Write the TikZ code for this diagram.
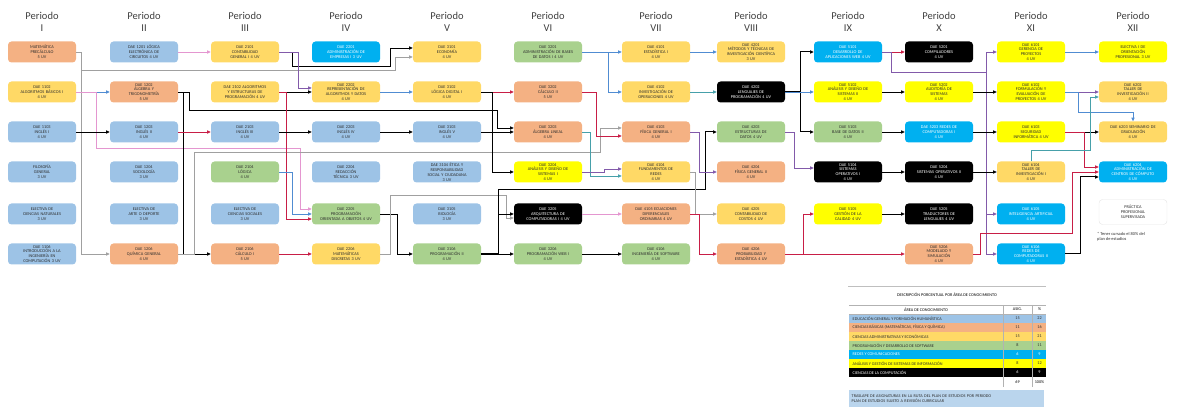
\documentclass[tikz,border=0pt]{standalone}
\usepackage{fontspec}
\setmainfont{Carlito}
\usetikzlibrary{arrows.meta}

\definecolor{naranja}{RGB}{244,177,131}
\definecolor{amarillo}{RGB}{255,217,102}
\definecolor{celeste}{RGB}{157,195,230}
\definecolor{verde}{RGB}{169,209,142}
\definecolor{cian}{RGB}{0,176,240}
\definecolor{amarillofuerte}{RGB}{255,255,0}
\definecolor{gris}{RGB}{160,160,160}
\definecolor{rosa}{RGB}{228,150,208}
\definecolor{azul}{RGB}{80,140,210}
\definecolor{rojo}{RGB}{200,30,70}
\definecolor{morado}{RGB}{130,90,170}
\definecolor{verdeazul}{RGB}{70,160,170}
\definecolor{titulo}{RGB}{64,64,64}
\definecolor{texto}{RGB}{45,45,45}
\colorlet{negro}{black}

\begin{document}
\begin{tikzpicture}[x=1pt,y=-1pt,
    curso/.style={rectangle, rounded corners=3.5pt, fill=#1, text=texto,
        minimum width=68pt, minimum height=21pt, inner sep=1pt,
        text width=66pt, align=center, font=\fontsize{4.3}{4.9}\selectfont},
    cursoosc/.style={curso=#1, text=white},
    flecha/.style={draw=#1, line width=0.7pt, -{Triangle[length=3.6pt,width=3.2pt]}},
    flecha/.default=gris,
    periodo/.style={align=center, text=titulo, font=\fontsize{10.5}{12.5}\selectfont},
    tabla/.style={font=\fontsize{4.2}{5}\selectfont, inner sep=0.5pt}]
    \useasboundingbox (0,0) rectangle (1180,411);

    % encabezados de periodo
    \foreach \x/\r [count=\i] in {42/I,144/II,245/III,346/IV,447/V,548/VI,656/VII,751/VIII,848/IX,939/X,1031/XI,1133/XII}
        \node[periodo] (p\i) at (\x,22) {Periodo\\\r};

    % Periodo I
    \node[curso=naranja] (c11) at (42,52) {MATEMÁTICA\\PRECÁLCULO\\5 UV};
    \node[curso=amarillo] (c12) at (42,92) {DAE 1102\\ALGORITMOS BÁSICOS I\\4 UV};
    \node[curso=celeste] (c13) at (42,132) {DAE 1103\\INGLÉS I\\4 UV};
    \node[curso=celeste] (c14) at (42,172) {FILOSOFÍA\\GENERAL\\3 UV};
    \node[curso=celeste] (c15) at (42,214) {ELECTIVA DE\\CIENCIAS NATURALES\\3 UV};
    \node[curso=celeste] (c16) at (42,254) {DAE 1106\\INTRODUCCIÓN A LA\\INGENIERÍA EN\\COMPUTACIÓN 3 UV};

    % Periodo II
    \node[curso=celeste] (c21) at (144,52) {DAE 1201 LÓGICA\\ELECTRÓNICA DE\\CIRCUITOS 4 UV};
    \node[curso=naranja] (c22) at (144,92) {DAE 1202\\ÁLGEBRA Y\\TRIGONOMETRÍA\\5 UV};
    \node[curso=celeste] (c23) at (144,132) {DAE 1203\\INGLÉS II\\4 UV};
    \node[curso=celeste] (c24) at (144,172) {DAE 1204\\SOCIOLOGÍA\\3 UV};
    \node[curso=celeste] (c25) at (144,214) {ELECTIVA DE\\ARTE O DEPORTE\\3 UV};
    \node[curso=naranja] (c26) at (144,254) {DAE 1206\\QUÍMICA GENERAL\\4 UV};

    % Periodo III
    \node[curso=amarillo] (c31) at (245,52) {DAE 2101\\CONTABILIDAD\\GENERAL I 4 UV};
    \node[curso=amarillo] (c32) at (245,92) {DAE 2102 ALGORITMOS\\Y ESTRUCTURAS DE\\PROGRAMACIÓN 4 UV};
    \node[curso=celeste] (c33) at (245,132) {DAE 2103\\INGLÉS III\\4 UV};
    \node[curso=verde] (c34) at (245,172) {DAE 2104\\LÓGICA\\4 UV};
    \node[curso=celeste] (c35) at (245,214) {ELECTIVA DE\\CIENCIAS SOCIALES\\3 UV};
    \node[curso=naranja] (c36) at (245,254) {DAE 2106\\CÁLCULO I\\5 UV};

    % Periodo IV
    \node[cursoosc=cian] (c41) at (346,52) {DAE 2201\\ADMINISTRACIÓN DE\\EMPRESAS I 3 UV};
    \node[curso=amarillo] (c42) at (346,92) {DAE 2202\\REPRESENTACIÓN DE\\ALGORITMOS Y DATOS\\4 UV};
    \node[curso=celeste] (c43) at (346,132) {DAE 2203\\INGLÉS IV\\4 UV};
    \node[curso=celeste] (c44) at (346,172) {DAE 2204\\REDACCIÓN\\TÉCNICA 3 UV};
    \node[curso=verde] (c45) at (346,214) {DAE 2205\\PROGRAMACIÓN\\ORIENTADA A OBJETOS 4 UV};
    \node[curso=amarillo] (c46) at (346,254) {DAE 2206\\MATEMÁTICAS\\DISCRETAS 3 UV};

    % Periodo V
    \node[curso=amarillo] (c51) at (447,52) {DAE 3101\\ECONOMÍA\\4 UV};
    \node[curso=amarillo] (c52) at (447,92) {DAE 3102\\LÓGICA DIGITAL I\\4 UV};
    \node[curso=celeste] (c53) at (447,132) {DAE 3103\\INGLÉS V\\4 UV};
    \node[curso=celeste] (c54) at (447,172) {DAE 3104 ÉTICA Y\\RESPONSABILIDAD\\SOCIAL Y CIUDADANA\\3 UV};
    \node[curso=celeste] (c55) at (447,214) {DAE 3105\\BIOLOGÍA\\3 UV};
    \node[curso=verde] (c56) at (447,254) {DAE 3106\\PROGRAMACIÓN II\\4 UV};

    % Periodo VI
    \node[curso=verde] (c61) at (548,52) {DAE 3201\\ADMINISTRACIÓN DE BASES\\DE DATOS I 4 UV};
    \node[curso=naranja] (c62) at (548,92) {DAE 3202\\CÁLCULO II\\5 UV};
    \node[curso=naranja] (c63) at (548,132) {DAE 3203\\ÁLGEBRA LINEAL\\4 UV};
    \node[curso=amarillofuerte] (c64) at (548,172) {DAE 3204\\ANÁLISIS Y DISEÑO DE\\SISTEMAS I\\4 UV};
    \node[cursoosc=negro] (c65) at (548,214) {DAE 3205\\ARQUITECTURA DE\\COMPUTADORAS I 4 UV};
    \node[curso=verde] (c66) at (548,254) {DAE 3206\\PROGRAMACIÓN WEB I\\4 UV};

    % Periodo VII
    \node[curso=amarillo] (c71) at (656,52) {DAE 4101\\ESTADÍSTICA I\\4 UV};
    \node[curso=amarillo] (c72) at (656,92) {DAE 4102\\INVESTIGACIÓN DE\\OPERACIONES 4 UV};
    \node[curso=naranja] (c73) at (656,132) {DAE 4103\\FÍSICA GENERAL I\\4 UV};
    \node[curso=amarillo] (c74) at (656,172) {DAE 4104\\FUNDAMENTOS DE\\REDES\\4 UV};
    \node[curso=naranja] (c75) at (656,214) {DAE 4105 ECUACIONES\\DIFERENCIALES\\ORDINARIAS 4 UV};
    \node[curso=verde] (c76) at (656,254) {DAE 4106\\INGENIERÍA DE SOFTWARE\\4 UV};

    % Periodo VIII
    \node[curso=amarillo] (c81) at (751,52) {DAE 4201\\MÉTODOS Y TÉCNICAS DE\\INVESTIGACIÓN CIENTÍFICA\\3 UV};
    \node[cursoosc=negro] (c82) at (751,92) {DAE 4202\\LENGUAJES DE\\PROGRAMACIÓN 4 UV};
    \node[curso=verde] (c83) at (751,132) {DAE 4203\\ESTRUCTURAS DE\\DATOS 4 UV};
    \node[curso=naranja] (c84) at (751,172) {DAE 4204\\FÍSICA GENERAL II\\4 UV};
    \node[curso=amarillo] (c85) at (751,214) {DAE 4205\\CONTABILIDAD DE\\COSTOS 4 UV};
    \node[curso=naranja] (c86) at (751,254) {DAE 4206\\PROBABILIDAD Y\\ESTADÍSTICA 4 UV};

    % Periodo IX
    \node[cursoosc=cian] (c91) at (848,52) {DAE 5101\\DESARROLLO DE\\APLICACIONES WEB 4 UV};
    \node[curso=amarillofuerte] (c92) at (848,92) {DAE 5102\\ANÁLISIS Y DISEÑO DE\\SISTEMAS II\\4 UV};
    \node[curso=verde] (c93) at (848,132) {DAE 5103\\BASE DE DATOS II\\4 UV};
    \node[cursoosc=negro] (c94) at (848,172) {DAE 5104\\SISTEMAS\\OPERATIVOS I\\4 UV};
    \node[curso=amarillofuerte] (c95) at (848,214) {DAE 5105\\GESTIÓN DE LA\\CALIDAD 4 UV};

    % Periodo X
    \node[cursoosc=negro] (c101) at (939,52) {DAE 5201\\COMPILADORES\\4 UV};
    \node[curso=amarillofuerte] (c102) at (939,92) {DAE 5202\\AUDITORÍA DE\\SISTEMAS\\4 UV};
    \node[cursoosc=cian] (c103) at (939,132) {DAE 5203 REDES DE\\COMPUTADORAS I\\4 UV};
    \node[cursoosc=negro] (c104) at (939,172) {DAE 5204\\SISTEMAS OPERATIVOS II\\4 UV};
    \node[cursoosc=negro] (c105) at (939,214) {DAE 5205\\TRADUCTORES DE\\LENGUAJES 4 UV};
    \node[curso=naranja] (c106) at (939,254) {DAE 5206\\MODELADO Y\\SIMULACIÓN\\4 UV};

    % Periodo XI
    \node[curso=amarillofuerte] (c111) at (1031,52) {DAE 6101\\GERENCIA DE\\PROYECTOS\\4 UV};
    \node[curso=amarillofuerte] (c112) at (1031,92) {DAE 6102\\FORMULACIÓN Y\\EVALUACIÓN DE\\PROYECTOS 4 UV};
    \node[curso=amarillofuerte] (c113) at (1031,132) {DAE 6103\\SEGURIDAD\\INFORMÁTICA 4 UV};
    \node[curso=amarillo] (c114) at (1031,172) {DAE 6104\\TALLER DE\\INVESTIGACIÓN I\\4 UV};
    \node[cursoosc=cian] (c115) at (1031,214) {DAE 6105\\INTELIGENCIA ARTIFICIAL\\4 UV};
    \node[cursoosc=cian] (c116) at (1031,254) {DAE 6106\\REDES DE\\COMPUTADORAS II\\4 UV};

    % Periodo XII
    \node[curso=amarillofuerte] (c121) at (1133,52) {ELECTIVA I DE\\ORIENTACIÓN\\PROFESIONAL 3 UV};
    \node[curso=amarillo] (c122) at (1133,92) {DAE 6202\\TALLER DE\\INVESTIGACIÓN II\\4 UV};
    \node[curso=amarillo] (c123) at (1133,132) {DAE 6203 SEMINARIO DE\\GRADUACIÓN\\4 UV};
    \node[cursoosc=cian] (c124) at (1133,172) {DAE 6204\\ADMINISTRACIÓN DE\\CENTROS DE CÓMPUTO\\4 UV};
    \node[curso=white, draw=gray!20, minimum height=25pt] (practica) at (1133,212) {PRÁCTICA\\PROFESIONAL\\SUPERVISADA};
    \node[anchor=west, align=left, text=texto, inner sep=0pt, font=\fontsize{4.4}{5.2}\selectfont] (nota) at (1097,237) {* Tener cursado el 80\% del\\plan de estudios};

    % I -> II
    \draw[flecha] (c11.east) -- (81,52) |- (c26.west);
    \draw[flecha] (c11.east) -- (81,52) |- (395,70) |- ([yshift=-5pt]c51.west);
    \draw[flecha=azul] (c12.east) -- (c22.west);
    \draw[flecha=rosa] (c12.east) -- (96,92) |- (300,148) |- ([yshift=5pt]c45.west);
    \draw[flecha=negro] (c13.east) -- (c23.west);

    % II -> III
    \draw[flecha=rosa] (c21.east) -- (c31.west);
    \draw[flecha=negro] (c22.east) -- (183,92) |- (c36.west);
    \draw[flecha=negro] (c22.east) -- (189,92) |- (497,110) |- ([yshift=4pt]c63.west);
    \draw[flecha=rojo] (c23.east) -- (c33.west);
    \draw[flecha] (c26.east) -- (194,254) |- (600,152) |- ([yshift=4pt]c73.west);

    % III -> IV
    \draw[flecha=negro] (c31.east) -- (292,52) |- (390,66) |- ([yshift=4pt]c51.west);
    \draw[flecha=morado] (c31.east) -- (298,52) |- ([yshift=4pt]c42.west);
    \draw[flecha=negro] (c32.east) -- (c42.west);
    \draw[flecha=rojo] (c32.east) -- (286,92) |- ([yshift=-5pt]c45.west);
    \draw[flecha=negro] (c33.east) -- (c43.west);
    \draw[flecha=azul] (c34.east) -- (292,172) |- (c45.west);
    \draw[flecha=rojo] (c36.east) -- (c46.west);

    % IV -> V
    \draw[flecha=azul] (c42.east) -- (c52.west);
    \draw[flecha=negro] (c43.east) -- (c53.west);
    \draw[flecha=negro] (c45.east) -- (397,214) |- (c56.west);
    \draw[flecha] (c46.east) -- (390,254) |- (506,195) |- ([yshift=-4pt]c65.west);

    % V -> VI
    \draw[flecha=rojo] (c52.east) -- (c62.west);
    \draw[flecha=negro] (c52.east) -- (492,92) |- (c64.west);
    \draw[flecha=negro] (c53.east) -- (c63.west);
    \draw[flecha=negro] (c56.east) -- (c66.west);
    \draw[flecha=negro] (c56.east) -- (498,254) |- (c65.west);
    \draw[flecha=negro, line width=1pt] (c56.east) -- (498,254) |- (705,190) |- (c83.west);

    % VI -> VII
    \draw[flecha=azul] (c61.east) -- (c71.west);
    \draw[flecha=azul] (c61.east) -- (608,52) |- (c72.west);
    \draw[flecha=rojo] (c62.east) -- (596,92) |- ([yshift=-4pt]c73.west);
    \draw[flecha=verdeazul] (c63.east) -- (590,132) |- ([yshift=-4pt]c74.west);
    \draw[flecha=morado] (c64.east) -- (604,172) |- ([yshift=3pt]c74.west);
    \draw[flecha=rosa] (c65.east) -- (c75.west);
    \draw[flecha=negro] (c66.east) -- (c76.west);

    % VII -> VIII
    \draw[flecha=azul] (c71.east) -- (c81.west);
    \draw[flecha=verdeazul] (c72.east) -- (c82.west);
    \draw[flecha=morado] (c73.east) -- (699,132) |- (c84.west);
    \draw[flecha] (c74.east) -- (695,172) |- (c85.west);
    \draw[flecha=rojo] (c75.east) -- (699,214) |- (c86.west);

    % VIII -> IX
    \draw[flecha=negro, line width=1pt] (c82.east) -- (800,92) |- (c91.west);
    \draw[flecha=negro, line width=1pt] (c82.east) -- (800,92) |- (c93.west);
    \draw[flecha=azul] (c82.east) -- (c92.west);
    \draw[flecha=morado] (c83.east) -- (794,132) |- ([yshift=4pt]c94.west);
    \draw[flecha=rojo] (c86.east) -- (803,254) |- (c95.west);
    \draw[flecha=rojo] (c86.east) -- (c106.west);

    % IX -> X
    \draw[flecha=rojo] (c91.east) -- (c101.west);
    \draw[flecha=negro] (c92.east) -- (c102.west);
    \draw[flecha=negro] (c93.east) -- (c103.west);
    \draw[flecha=negro] (c94.east) -- (c104.west);
    \draw[flecha=negro] (c95.east) -- (c105.west);
    \draw[flecha=morado] (c91.east) -- (891,52) |- (986,72) |- (c111.west);
    \draw[flecha=morado] (c91.east) -- (891,52) |- (986,72) |- (c115.west);
    \draw[flecha=morado] (c91.east) -- (891,52) |- (986,72) |- (c116.west);

    % X -> XI
    \draw[flecha=negro] (c102.east) -- (c112.west);
    \draw[flecha=negro] (c103.east) -- (c113.west);
    \draw[flecha=negro] (c104.east) -- (c114.west);
    \draw[flecha=rojo] (c106.east) -- (980,254) |- (1072,233) |- (c124.west);

    % XI -> XII
    \draw[flecha=azul] (c111.east) -- (c121.west);
    \draw[flecha=morado] (c112.east) -- (c122.west);
    \draw[flecha=azul] (c112.east) -- (1078,92) |- (1133,112) -- (c123.north);
    \draw[flecha=negro] (c113.east) -- (c123.west);
    \draw[flecha=rojo] (c113.east) -- (1084,132) |- ([yshift=5pt]c124.west);
    \draw[flecha=verdeazul] (c114.north) |- (1090,150) |- ([yshift=-5pt]c122.west);
    \draw[flecha=negro, line width=1pt] (c116.east) -- (1080,254) |- ([yshift=-5pt]c124.west);

    % tabla de areas
    \draw[gray!50] (848,286) -- (1046,286);
    \node[tabla] (tabtitulo) at (947,295) {DESCRIPCIÓN PORCENTUAL POR ÁREA DE CONOCIMIENTO};
    \node[tabla] (tabarea) at (926,309.5) {ÁREA DE CONOCIMIENTO};
    \node[tabla] (tabasig) at (1017.5,309.5) {ASIG.};
    \node[tabla] (tabpct) at (1039.5,309.5) {\%};
    \foreach \col/\tc/\txt/\n/\p [count=\i] in {
        celeste/texto/EDUCACIÓN GENERAL Y FORMACIÓN HUMANÍSTICA/15/22,
        naranja/texto/CIENCIAS BÁSICAS (MATEMÁTICAS{,} FÍSICA Y QUÍMICA)/11/16,
        amarillo/texto/CIENCIAS ADMINISTRATIVAS Y ECONÓMICAS/15/21,
        verde/texto/PROGRAMACIÓN Y DESARROLLO DE SOFTWARE/8/11,
        cian/white/REDES Y COMUNICACIONES/6/9,
        amarillofuerte/texto/ANÁLISIS Y GESTIÓN DE SISTEMAS DE INFORMACIÓN/8/12,
        negro/white/CIENCIAS DE LA COMPUTACIÓN/6/9} {
        \fill[\col] (849,{305+9*\i}) rectangle (1046,{314+9*\i});
        \node[tabla, anchor=west, text=\tc] (area\i) at (852,{309.5+9*\i}) {\txt};
        \node[tabla, text=\tc] (asig\i) at (1017.5,{309.5+9*\i}) {\n};
        \node[tabla, text=\tc] (pct\i) at (1039.5,{309.5+9*\i}) {\p};
    }
    \draw[gray!60] (849,305) -- (1046,305);
    \draw[gray!60] (849,314) -- (1046,314);
    \draw[gray!60] (1003,305) -- (1003,387);
    \draw[gray!60] (1032,305) -- (1032,387);
    \node[tabla] (totasig) at (1017.5,382) {69};
    \node[tabla] (totpct) at (1039.5,382) {100\%};

    % nota inferior
    \node[fill=celeste!70, anchor=north west, minimum width=195pt, minimum height=17pt,
        align=left, text width=190pt, inner sep=2.5pt, text=texto,
        font=\fontsize{4.2}{5.2}\selectfont] (notainf) at (849,390)
        {TRASLAPE DE ASIGNATURAS EN LA RUTA DEL PLAN DE ESTUDIOS POR PERIODO\\* PLAN DE ESTUDIOS SUJETO A REVISIÓN CURRICULAR};
\end{tikzpicture}
\end{document}
